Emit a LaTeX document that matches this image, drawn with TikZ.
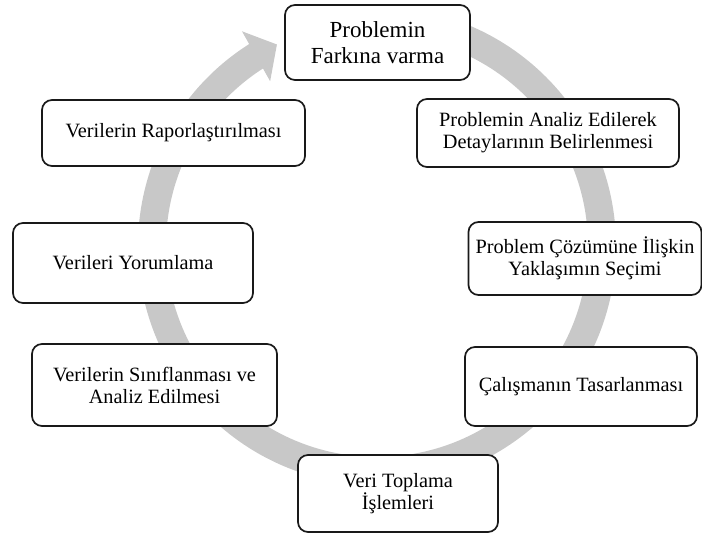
\documentclass[tikz,border=0pt]{standalone}
\usepackage{fontspec}
\setmainfont{Liberation Serif}
\usetikzlibrary{arrows.meta, bending}
\definecolor{ringgray}{RGB}{200,200,200}
\tikzset{
  stage/.style={rectangle, rounded corners=10pt, draw=black!90, line width=1.7pt, fill=white, align=center, inner sep=2pt, font=\fontsize{20.3}{22}\selectfont},
  stagetop/.style={stage, font=\fontsize{23}{26}\selectfont},
  ringarrow/.style={draw=ringgray, line width=28pt, -{Triangle[length=24pt, width=56pt, flex]}},
}
\begin{document}
\begin{tikzpicture}[x=1pt, y=1pt]
\useasboundingbox (0,0) rectangle (702,534);
\coordinate (ringc) at (377,288);
% the cycle behind the boxes
\draw[ringarrow] (ringc) ++(90:225) arc[start angle=90, end angle=-243.6, radius=225pt];

\node[stagetop, minimum width=185, minimum height=75] (problem) at (377.5,491.5) {Problemin\\Farkına varma};
\node[stage, minimum width=262, minimum height=68] (analysis) at (548,401) {Problemin Analiz Edilerek\\Detaylarının Belirlenmesi};
\node[stage, minimum width=233, minimum height=73] (approach) at (585,275.5) {Problem Çözümüne İlişkin\\Yaklaşımın Seçimi};
\node[stage, minimum width=232, minimum height=79] (design) at (581,147.5) {Çalışmanın Tasarlanması};
\node[stage, minimum width=200, minimum height=77] (collection) at (398,40.5) {Veri Toplama\\İşlemleri};
\node[stage, minimum width=245, minimum height=82] (classify) at (154.5,149) {Verilerin Sınıflanması ve\\Analiz Edilmesi};
\node[stage, minimum width=240, minimum height=80] (interpret) at (133,271) {Verileri Yorumlama};
\node[stage, minimum width=263, minimum height=66] (report) at (173.5,401) {Verilerin Raporlaştırılması};
\end{tikzpicture}
\end{document}
